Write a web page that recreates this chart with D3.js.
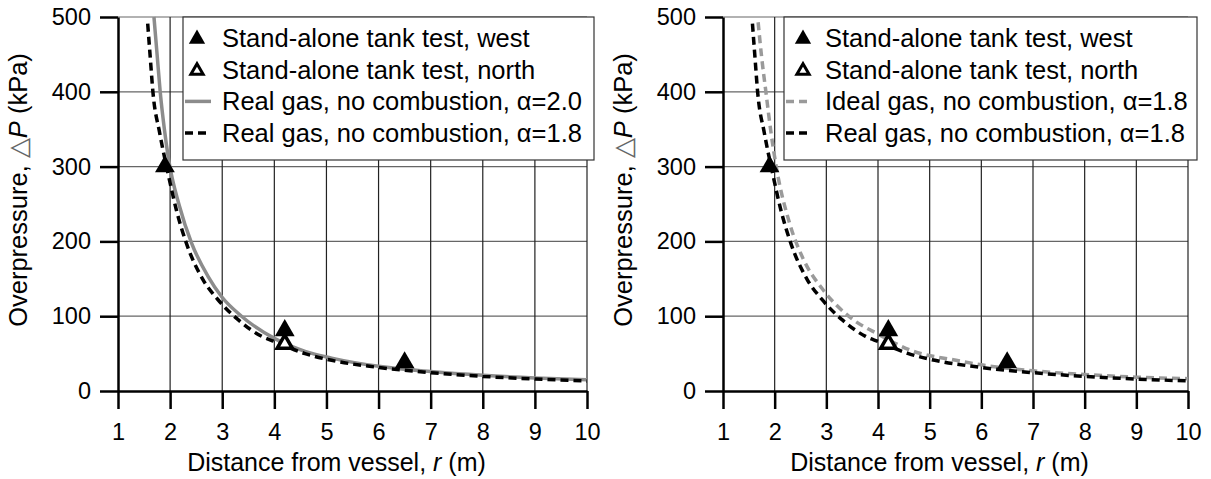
<!DOCTYPE html>
<html>
<head>
<meta charset="utf-8">
<script src="https://cdn.jsdelivr.net/npm/d3@7"></script>
<style>
  body { margin: 0; background: #fff; }
  svg { display: block; font-family: "Liberation Sans", Arial, sans-serif; }
</style>
</head>
<body>
<div id="chart"></div>
<script>
// Axis ticks
const xTicks = [1, 2, 3, 4, 5, 6, 7, 8, 9, 10];
const yTicks = [0, 100, 200, 300, 400, 500];

// Stand-alone tank test measurements (r in m, overpressure in kPa)
const westTest = [[1.9, 300], [4.2, 81], [6.5, 38]];
const northTest = [[4.2, 63]];

// Real gas, no combustion, alpha = 2.0
const realGas20 = [[1.69, 500], [1.75, 450], [1.81, 400], [1.89, 350], [1.97, 310], [2.18, 247],
  [2.41, 198], [2.73, 153], [2.99, 126], [3.37, 100], [4.01, 70], [4.59, 53], [5.1, 44],
  [6, 33], [7, 26], [8, 21], [9, 17.5], [10, 15]];

// Real gas, no combustion, alpha = 1.8
const realGas18 = [[1.57, 491], [1.62, 445], [1.67, 400], [1.8, 345], [1.96, 291], [2.12, 242],
  [2.31, 198], [2.63, 149], [2.92, 122], [3.31, 95], [3.76, 73], [4.01, 66], [4.59, 50],
  [5.1, 41], [5.94, 32], [7, 24.5], [8, 19.5], [9, 16], [10, 13.5]];

// Ideal gas, no combustion, alpha = 1.8
const idealGas18 = [[1.68, 493], [1.75, 445], [1.83, 400], [1.93, 345], [2.03, 300], [2.29, 224],
  [2.55, 177], [2.94, 135], [3.45, 99], [4.03, 75], [4.61, 55], [5.51, 41], [6, 35],
  [7, 27], [8, 22], [9, 18.5], [10, 16.5]];

const legendLeft = ["Stand-alone tank test, west", "Stand-alone tank test, north",
  "Real gas, no combustion, \u03b1=2.0", "Real gas, no combustion, \u03b1=1.8"];
const legendRight = ["Stand-alone tank test, west", "Stand-alone tank test, north",
  "Ideal gas, no combustion, \u03b1=1.8", "Real gas, no combustion, \u03b1=1.8"];

const width = 1211, height = 479;
const svg = d3.select("#chart").append("svg")
  .attr("width", width)
  .attr("height", height);

const styles = {
  gray: { stroke: "#8c8c8c", width: 3.5, dash: null },
  grayDash: { stroke: "#9a9a9a", width: 3.5, dash: "8,5" },
  blackDash: { stroke: "#000", width: 3.5, dash: "8,5" }
};

function drawPanel(opt) {
  const x = d3.scaleLinear().domain([1, 10]).range([opt.x0, opt.x1]);
  const y = d3.scaleLinear().domain([0, 500]).range([391, 17]);
  const g = svg.append("g");

  // grid
  g.append("g").selectAll("line").data(yTicks.slice(1)).join("line")
    .attr("x1", opt.x0).attr("x2", opt.x1)
    .attr("y1", d => y(d)).attr("y2", d => y(d))
    .attr("stroke", "#666").attr("stroke-width", 1.2);
  g.append("g").selectAll("line").data(xTicks.slice(1)).join("line")
    .attr("x1", d => x(d)).attr("x2", d => x(d))
    .attr("y1", y(0)).attr("y2", y(500))
    .attr("stroke", "#222").attr("stroke-width", 1.2);

  // curves
  const clipId = "clip" + opt.x0;
  svg.append("clipPath").attr("id", clipId).append("rect")
    .attr("x", opt.x0).attr("y", y(500) - 1).attr("width", opt.x1 - opt.x0).attr("height", y(0) - y(500) + 1);
  const line = d3.line().x(d => x(d[0])).y(d => y(d[1])).curve(d3.curveMonotoneX);
  opt.series.forEach(s => {
    g.append("path").datum(s.data)
      .attr("clip-path", `url(#${clipId})`)
      .attr("fill", "none")
      .attr("stroke", s.style.stroke)
      .attr("stroke-width", s.style.width)
      .attr("stroke-dasharray", s.style.dash)
      .attr("d", line);
  });

  // axes
  const yAxis = g.append("g").attr("transform", `translate(${opt.x0},0)`)
    .call(d3.axisLeft(y).tickValues(yTicks).tickSize(18).tickPadding(9).tickSizeOuter(0));
  const xAxis = g.append("g").attr("transform", `translate(0,${y(0)})`)
    .call(d3.axisBottom(x).tickValues(xTicks).tickSize(18).tickPadding(14).tickSizeOuter(0));
  [yAxis, xAxis].forEach(a => {
    a.select(".domain").attr("stroke", "#000").attr("stroke-width", 2.5);
    a.selectAll(".tick line").attr("stroke", "#000").attr("stroke-width", 2.5);
    a.selectAll(".tick text").attr("fill", "#000").style("font-size", "23.5px")
      .style("font-family", "Liberation Sans, Arial, sans-serif");
  });

  // markers
  const triFill = d3.symbol(d3.symbolTriangle, 170);
  const triOpen = d3.symbol(d3.symbolTriangle, 100);
  g.append("g").selectAll("path").data(westTest).join("path")
    .attr("transform", d => `translate(${x(d[0])},${y(d[1])})`)
    .attr("d", triFill).attr("fill", "#000");
  g.append("g").selectAll("path").data(northTest).join("path")
    .attr("transform", d => `translate(${x(d[0])},${y(d[1])})`)
    .attr("d", triOpen).attr("fill", "#fff").attr("stroke", "#000").attr("stroke-width", 3.5)
    .attr("stroke-linejoin", "miter");

  // axis titles
  const xt = g.append("text")
    .attr("x", (opt.x0 + opt.x1) / 2 - 16).attr("y", 471)
    .attr("text-anchor", "middle").style("font-size", "25px");
  xt.append("tspan").text("Distance from vessel, ");
  xt.append("tspan").attr("font-style", "italic").text("r");
  xt.append("tspan").text(" (m)");

  const yt = g.append("text")
    .attr("transform", `translate(${opt.x0 - 91},190) rotate(-90)`)
    .attr("text-anchor", "middle").style("font-size", "25.5px");
  yt.append("tspan").text("Overpressure, ");
  yt.append("tspan").attr("fill", "#666").text("\u25b3");
  yt.append("tspan").attr("font-style", "italic").text("P");
  yt.append("tspan").text(" (kPa)");

  // legend
  const lg = g.append("g");
  lg.append("rect")
    .attr("x", opt.lx).attr("y", 17).attr("width", opt.lw).attr("height", 143)
    .attr("fill", "#fff").attr("stroke", "#333").attr("stroke-width", 1.2);
  const rowY = i => 38 + i * 31.7;
  const legTriFill = d3.symbol(d3.symbolTriangle, 115);
  const legTriOpen = d3.symbol(d3.symbolTriangle, 65);
  lg.append("path").attr("transform", `translate(${opt.lx + opt.mk},${rowY(0) + 1})`)
    .attr("d", legTriFill).attr("fill", "#000");
  lg.append("path").attr("transform", `translate(${opt.lx + opt.mk},${rowY(1) + 1})`)
    .attr("d", legTriOpen).attr("fill", "#fff").attr("stroke", "#000").attr("stroke-width", 3);
  opt.series.forEach((s, i) => {
    lg.append("line")
      .attr("x1", opt.lx + 2).attr("x2", opt.lx + 28)
      .attr("y1", rowY(i + 2)).attr("y2", rowY(i + 2))
      .attr("stroke", s.style.stroke).attr("stroke-width", s.style.width)
      .attr("stroke-dasharray", s.style.dash);
  });
  lg.selectAll("text").data(opt.labels).join("text")
    .attr("x", opt.lx + opt.tx).attr("y", (d, i) => rowY(i) + 9)
    .style("font-size", "25.5px").text(d => d);
}

drawPanel({
  x0: 118, x1: 587, lx: 183, lw: 411, mk: 14, tx: 39,
  labels: legendLeft,
  series: [{ data: realGas20, style: styles.gray }, { data: realGas18, style: styles.blackDash }]
});
drawPanel({
  x0: 723, x1: 1188, lx: 784, lw: 413, mk: 19, tx: 41,
  labels: legendRight,
  series: [{ data: idealGas18, style: styles.grayDash }, { data: realGas18, style: styles.blackDash }]
});
</script>
</body>
</html>
